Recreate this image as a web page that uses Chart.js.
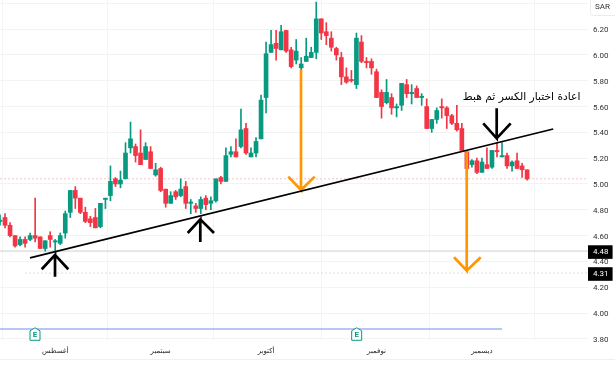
<!DOCTYPE html>
<html lang="ar">
<head>
<meta charset="utf-8">
<style>html,body{margin:0;padding:0;background:#fff}canvas{display:block}</style>
<script src="https://cdn.jsdelivr.net/npm/chart.js@4"></script>
</head>
<body>
<canvas id="c" width="615" height="368"></canvas>
<script>
const opens  = [4.71,4.74,4.68,4.60,4.53,4.57,4.57,4.60,4.59,4.50,4.60,4.55,4.54,4.62,4.78,4.95,4.89,4.78,4.73,4.74,4.67,4.88,4.91,5.04,5.00,5.04,5.28,5.29,5.24,5.19,5.25,5.07,5.12,4.96,4.85,4.94,4.91,4.98,4.85,4.83,4.81,4.89,4.85,4.87,5.05,5.02,5.23,5.25,5.29,5.43,5.21,5.24,5.35,5.67,6.02,6.09,6.04,6.19,6.04,5.96,5.90,5.95,5.98,6.02,6.28,6.18,6.13,6.05,5.98,5.83,5.81,5.77,6.10,5.95,5.95,5.87,5.71,5.63,5.67,5.59,5.61,5.77,5.70,5.74,5.67,5.60,5.43,5.50,5.60,5.59,5.53,5.47,5.43,5.25,5.15,5.18,5.09,5.15,5.13,5.26,5.21,5.22,5.14,5.18,5.14,5.11];
const highs  = [4.76,4.77,4.70,4.60,4.59,4.59,4.62,4.89,4.59,4.56,4.63,4.57,4.62,4.79,4.95,4.98,4.89,4.82,4.75,4.81,4.85,4.89,5.14,5.05,5.10,5.32,5.48,5.31,5.42,5.32,5.29,5.16,5.13,4.96,4.94,4.95,5.04,5.02,4.88,4.85,4.90,4.91,4.90,5.04,5.06,5.28,5.29,5.35,5.58,5.47,5.28,5.36,5.69,6.10,6.19,6.19,6.23,6.19,6.06,6.12,5.98,6.13,6.06,6.41,6.28,6.25,6.18,6.06,6.02,5.90,5.88,6.17,6.15,5.98,5.97,5.89,5.73,5.81,5.70,5.62,5.78,5.81,5.77,5.76,5.70,5.66,5.50,5.59,5.66,5.60,5.54,5.61,5.47,5.26,5.19,5.20,5.20,5.28,5.26,5.32,5.32,5.24,5.18,5.24,5.16,5.11];
const lows   = [4.68,4.66,4.59,4.51,4.52,4.51,4.56,4.55,4.50,4.48,4.51,4.47,4.53,4.58,4.74,4.81,4.77,4.70,4.67,4.66,4.66,4.81,4.87,4.98,4.97,5.04,5.24,5.17,5.15,5.19,5.12,5.06,4.94,4.82,4.85,4.88,4.90,4.81,4.77,4.78,4.77,4.80,4.80,4.86,5.00,5.02,5.21,5.21,5.28,5.23,5.21,5.21,5.35,5.55,6.02,5.96,6.04,6.02,5.90,5.93,5.88,5.95,5.98,5.97,6.12,6.08,6.03,5.96,5.77,5.78,5.79,5.74,5.94,5.90,5.85,5.67,5.51,5.62,5.54,5.52,5.57,5.67,5.62,5.67,5.61,5.43,5.40,5.47,5.51,5.43,5.46,5.41,5.26,5.10,5.13,5.08,5.09,5.12,5.12,5.21,5.21,5.12,5.10,5.12,5.05,5.03];
const closes = [4.72,4.68,4.60,4.52,4.57,4.54,4.60,4.58,4.50,4.56,4.57,4.56,4.60,4.77,4.95,4.89,4.78,4.71,4.70,4.66,4.85,4.89,5.02,5.00,5.03,5.24,5.35,5.22,5.15,5.29,5.12,5.11,4.95,4.85,4.91,4.90,4.96,4.85,4.86,4.81,4.88,4.84,4.87,5.04,5.02,5.22,5.25,5.21,5.42,5.24,5.24,5.33,5.65,6.01,6.08,6.05,6.18,6.03,5.91,6.03,5.93,5.99,6.02,6.28,6.17,6.15,6.06,6.00,5.83,5.79,5.80,6.13,5.95,5.94,5.90,5.67,5.60,5.71,5.59,5.60,5.78,5.70,5.71,5.67,5.68,5.43,5.50,5.57,5.59,5.53,5.47,5.42,5.26,5.12,5.18,5.09,5.17,5.12,5.26,5.25,5.22,5.14,5.17,5.12,5.11,5.04];

const yTicks = [3.8,4.0,4.2,4.31,4.4,4.48,4.6,4.8,5.0,5.2,5.4,5.6,5.8,6.0,6.2,6.4];
const priceTags = [4.48,4.31];
const monthPositions = [11,32,53,75,96];
const monthNames = ['أغسطس','سبتمبر','أكتوبر','نوفمبر','ديسمبر'];

const trendX = [5.98,110.2];
const trendY = [4.427,5.426];
const arrowUp1X = [10.96,10.96,8.31,10.96,13.6];
const arrowUp1Y = [4.281,4.450,4.339,4.450,4.339];
const arrowUp2X = [39.9,39.9,37.39,39.9,42.63];
const arrowUp2Y = [4.55,4.726,4.62,4.726,4.62];
const arrowDownX = [98.94,98.94,96.27,98.94,101.73];
const arrowDownY = [5.587,5.354,5.47,5.354,5.47];
const orange1X = [59.96,59.96,57.43,59.96,62.69];
const orange1Y = [5.884,4.953,5.057,4.953,5.057];
const orange2X = [92.97,92.97,90.44,92.97,95.76];
const orange2Y = [5.256,4.328,4.432,4.328,4.432];

const prevCloseLevel = 5.04, levelA = 4.48, levelB = 4.31, eventLevel = 3.876;
const earningsX = [6.97,71.05], earningsY = 3.835;
const noteText = 'اعادة اختبار الكسر ثم هبط';
const noteX = 103.9, noteY = 5.674;
const xMax = 117.13, yMin = 3.783, yMax = 6.426;

const UP = '#089981', DOWN = '#F23645';
const colors = closes.map((c,i)=> c>=opens[i] ? UP : DOWN);
const zip = (xs,ys)=>xs.map((x,i)=>({x,y:ys[i]}));
const lineDs = (data,color,width,order,dash)=>({
  type:'line',data,borderColor:color,borderWidth:width,pointRadius:0,tension:0,
  order,borderDash:dash||[],fill:false,borderCapStyle:'butt',borderJoinStyle:'miter'
});

const overlay = {
  id:'overlay',
  beforeDraw(ch){
    const g=ch.ctx;
    g.save();
    g.fillStyle='#fff';g.fillRect(0,0,ch.width,ch.height);
    g.strokeStyle='#f0f0f0';g.lineWidth=1;
    g.beginPath();g.moveTo(0,359.5);g.lineTo(615,359.5);g.stroke();
    g.restore();
  },
  afterDraw(ch){
    const g=ch.ctx,sx=ch.scales.x,sy=ch.scales.y;
    g.save();
    g.strokeStyle='#ececec';g.lineWidth=1;
    g.beginPath();g.roundRect(590.5,-4.5,28,20,3);g.stroke();
    g.fillStyle='#333';g.font='8px Roboto';g.textAlign='left';g.textBaseline='middle';
    g.fillText('SAR',595,7);
    earningsX.forEach(v=>{
      const x=sx.getPixelForValue(v),y=sy.getPixelForValue(earningsY);
      g.fillStyle='#fff';g.strokeStyle=UP;g.lineWidth=1;
      g.beginPath();
      g.moveTo(x-5,y-3.5);g.lineTo(x,y-6.5);g.lineTo(x+5,y-3.5);g.lineTo(x+5,y+6);g.lineTo(x-5,y+6);g.closePath();
      g.fill();g.stroke();
      g.fillStyle=UP;g.font='bold 8px Roboto';g.textAlign='center';g.textBaseline='middle';
      g.fillText('E',x,y+1);
    });
    g.fillStyle='#000';g.font='10.7px "DejaVu Sans"';g.textAlign='center';g.textBaseline='middle';
    g.direction='rtl';
    g.fillText(noteText,sx.getPixelForValue(noteX),sy.getPixelForValue(noteY));
    g.restore();
  }
};

new Chart(document.getElementById('c'),{
  type:'bar',
  data:{datasets:[
    lineDs(zip(trendX,trendY),'#000',1.7,0),
    lineDs(zip(arrowUp1X,arrowUp1Y),'#000',2.7,0),
    lineDs(zip(arrowUp2X,arrowUp2Y),'#000',2.7,0),
    lineDs(zip(arrowDownX,arrowDownY),'#000',2.7,0),
    lineDs(zip(orange1X,orange1Y),'#FF9800',2.7,0),
    lineDs(zip(orange2X,orange2Y),'#FF9800',2.7,0),
    {type:'bar',grouped:false,order:2,barThickness:4,minBarLength:1,
     backgroundColor:colors,borderWidth:0,
     data:opens.map((o,i)=>({x:i,y:[o,closes[i]]}))},
    {type:'bar',grouped:false,order:3,barThickness:1,
     backgroundColor:colors,borderWidth:0,
     data:lows.map((l,i)=>({x:i,y:[l,highs[i]]}))},
    lineDs(zip([0,xMax],[prevCloseLevel,prevCloseLevel]),'#f9c0c5',1,5,[2,2]),
    lineDs(zip([0,xMax],[levelA,levelA]),'#cfcfcf',1,5),
    lineDs(zip([5,xMax],[levelB,levelB]),'#dcdcdc',1,5,[2,2]),
    lineDs(zip([0,100],[eventLevel,eventLevel]),'#6f8fe6',1,5)
  ]},
  options:{
    responsive:false,animation:false,
    layout:{padding:0},
    plugins:{legend:{display:false},tooltip:{enabled:false}},
    scales:{
      x:{
        type:'linear',min:0,max:xMax,offset:false,
        afterBuildTicks(s){s.ticks=monthPositions.map(value=>({value}));},
        afterFit(s){s.height=27;s.paddingLeft=0;s.paddingRight=0;},
        grid:{color:'#f5f5f5',drawTicks:false},
        border:{display:false},
        ticks:{
          autoSkip:false,maxRotation:0,padding:6,color:'#222',
          font:{family:'"DejaVu Sans"',size:7},
          callback(v){return monthNames[monthPositions.indexOf(v)]||'';}
        }
      },
      y:{
        position:'right',min:yMin,max:yMax,
        afterBuildTicks(s){s.ticks=yTicks.map(value=>({value}));},
        afterFit(s){s.width=27;s.paddingTop=0;s.paddingBottom=0;},
        grid:{drawTicks:false,color(c){return priceTags.includes(c.tick.value)?'rgba(0,0,0,0)':'#f3f3f3';}},
        border:{display:false},
        ticks:{
          autoSkip:false,padding:5,labelOffset:1,
          font:{family:'Roboto',size:8},
          color(c){return priceTags.includes(c.tick.value)?'#fff':'#333';},
          showLabelBackdrop(c){return priceTags.includes(c.tick.value);},
          backdropColor:'#000',
          backdropPadding:{left:6,right:4,top:2,bottom:2},
          callback(v){return v>6.3?'':v.toFixed(2);}
        }
      }
    }
  },
  plugins:[overlay]
});
</script>
</body>
</html>
